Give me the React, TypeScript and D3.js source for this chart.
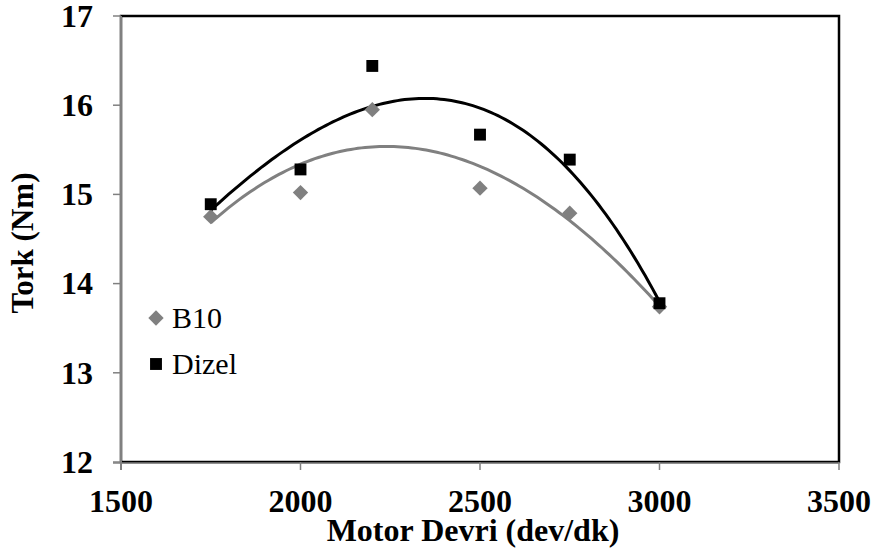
import * as d3 from 'd3';

const rpm = [1750, 2000, 2200, 2500, 2750, 3000];
const b10 = [14.75, 15.02, 15.95, 15.07, 14.79, 13.74];
const dizel = [14.89, 15.28, 16.44, 15.67, 15.39, 13.78];
const xTicks = [1500, 2000, 2500, 3000, 3500];
const yTicks = [12, 13, 14, 15, 16, 17];

// least squares polynomial (Excel-like trendline), x in thousands for stability
function polyFit(xs: number[], ys: number[], order: number) {
  const n = order + 1;
  const A: number[][] = Array.from({ length: n }, () => new Array(n + 1).fill(0));
  xs.forEach((xv, k) => {
    const x = xv / 1000;
    for (let i = 0; i < n; i++) {
      for (let j = 0; j < n; j++) A[i][j] += Math.pow(x, i + j);
      A[i][n] += Math.pow(x, i) * ys[k];
    }
  });
  for (let c = 0; c < n; c++) {
    let p = c;
    for (let r = c + 1; r < n; r++) if (Math.abs(A[r][c]) > Math.abs(A[p][c])) p = r;
    [A[c], A[p]] = [A[p], A[c]];
    for (let r = 0; r < n; r++) {
      if (r === c) continue;
      const f = A[r][c] / A[c][c];
      for (let k = c; k <= n; k++) A[r][k] -= f * A[c][k];
    }
  }
  const coef = A.map((row, i) => row[n] / row[i]);
  return (xv: number) => coef.reduce((s, c, i) => s + c * Math.pow(xv / 1000, i), 0);
}

const width = 875;
const height = 551;
const left = 121, right = 839, top = 16, bottom = 462;

export default function App() {
  const x = d3.scaleLinear().domain([1500, 3500]).range([left, right]);
  const y = d3.scaleLinear().domain([12, 17]).range([bottom, top]);

  const curve = (vals: number[]) => {
    const f = polyFit(rpm, vals, 3);
    const pts = d3.range(rpm[0], rpm[rpm.length - 1] + 1, 10).map((v) => [v, f(v)] as [number, number]);
    return d3.line<[number, number]>().x((d) => x(d[0])).y((d) => y(d[1])).curve(d3.curveLinear)(pts) || '';
  };

  const font = "'Liberation Serif', 'Times New Roman', serif";
  const diamond = d3.symbol().type(d3.symbolDiamond2).size(150)();
  const square = d3.symbol().type(d3.symbolSquare2).size(180)();

  return (
    <svg width={width} height={height} style={{ position: 'absolute', left: 0, top: 0, background: '#fff' }} fontFamily={font}>
      <rect x={left} y={top} width={right - left} height={bottom - top} fill="#fff" stroke="#000" strokeWidth={2.5} />
      <line x1={left} x2={left} y1={top} y2={bottom + 8} stroke="#808080" strokeWidth={2} />
      <line x1={left - 8} x2={right} y1={bottom + 1} y2={bottom + 1} stroke="#808080" strokeWidth={1.5} />
      {yTicks.map((t) => (
        <g key={t}>
          <line x1={left - 8} x2={left} y1={y(t)} y2={y(t)} stroke="#808080" strokeWidth={1.5} />
          <text x={93} y={y(t)} dy="0.34em" textAnchor="end" fontSize={32} fontWeight="bold">{t}</text>
        </g>
      ))}
      {xTicks.map((t) => (
        <g key={t}>
          <line x1={x(t)} x2={x(t)} y1={bottom} y2={bottom + 8} stroke="#808080" strokeWidth={1.5} />
          <text x={x(t)} y={512} textAnchor="middle" fontSize={32} fontWeight="bold">{t}</text>
        </g>
      ))}
      <path d={curve(b10)} fill="none" stroke="#808080" strokeWidth={3} />
      <path d={curve(dizel)} fill="none" stroke="#000" strokeWidth={3} />
      {rpm.map((r, i) => (
        <path key={'b' + r} d={diamond} transform={`translate(${x(r)},${y(b10[i])})`} fill="#808080" />
      ))}
      {rpm.map((r, i) => (
        <path key={'d' + r} d={square} transform={`translate(${x(r)},${y(dizel[i])})`} fill="#000" />
      ))}
      <text x={473} y={541} textAnchor="middle" fontSize={32} fontWeight="bold">Motor Devri (dev/dk)</text>
      <text transform="translate(33,243) rotate(-90)" textAnchor="middle" fontSize={31} fontWeight="bold">Tork (Nm)</text>
      <path d={diamond} transform="translate(156,318)" fill="#808080" />
      <text x={172} y={328} fontSize={30}>B10</text>
      <path d={square} transform="translate(156,364)" fill="#000" />
      <text x={172} y={374} fontSize={30}>Dizel</text>
    </svg>
  );
}
